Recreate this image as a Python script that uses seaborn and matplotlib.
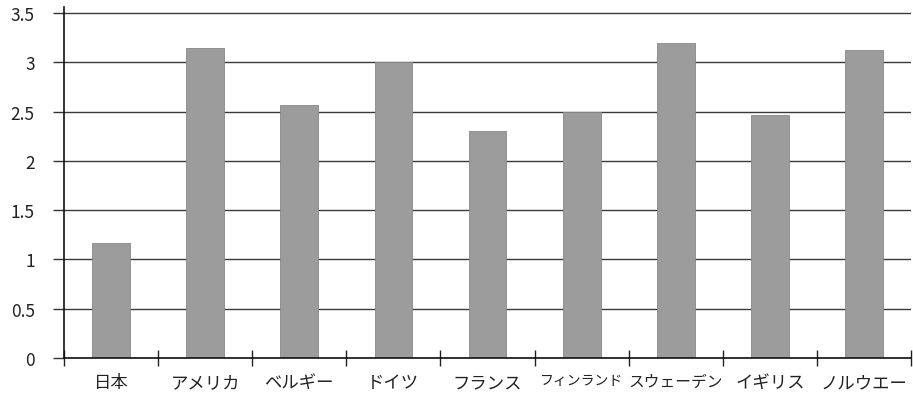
import matplotlib
matplotlib.use("Agg")
import matplotlib.pyplot as plt
import seaborn as sns
import numpy as np
import pandas as pd

countries = ["日本", "アメリカ", "ベルギー", "ドイツ", "フランス",
             "フィンランド", "スウェーデン", "イギリス", "ノルウエー"]
values = [1.17, 3.14, 2.57, 3.00, 2.30, 2.50, 3.20, 2.46, 3.12]
y_ticks = [0, 0.5, 1, 1.5, 2, 2.5, 3, 3.5]
y_tick_labels = ["0", "0.5", "1", "1.5", "2", "2.5", "3", "3.5"]

sns.set_theme(style="white")
plt.rcParams["font.family"] = ["Noto Sans CJK JP", "DejaVu Sans"]

df = pd.DataFrame({"country": countries, "value": values})

fig = plt.figure(figsize=(9.13, 4.02), dpi=100)
ax = fig.add_axes([0.070, 0.107, 0.928, 0.873])

sns.barplot(data=df, x="country", y="value", ax=ax, width=0.4,
            color="#9c9c9c", saturation=1, edgecolor="#888888", linewidth=0.6,
            zorder=3)

ax.set_xlim(-0.5, len(countries) - 0.5)
ax.set_ylim(0, 3.56)
ax.set_yticks(y_ticks)
ax.set_yticklabels(y_tick_labels, fontsize=12.5, color="#222222")
ax.set_xlabel("")
ax.set_ylabel("")

# horizontal gridlines
ax.yaxis.grid(True, color="#3a3a3a", linewidth=1.0, zorder=1)
ax.xaxis.grid(False)
ax.set_axisbelow(True)

# spines
for s in ["top", "right"]:
    ax.spines[s].set_visible(False)
ax.spines["left"].set_color("#111111")
ax.spines["left"].set_linewidth(1.2)
ax.spines["bottom"].set_color("#111111")
ax.spines["bottom"].set_linewidth(1.2)
ax.spines["bottom"].set_zorder(4)

# y ticks pointing outward, x labels without ticks, category boundaries as minor ticks
ax.tick_params(axis="y", which="major", direction="out", length=8, width=1,
               color="#333333", pad=13, left=True)
ax.tick_params(axis="x", which="major", length=0, pad=11, labelsize=12.5,
               labelcolor="#222222")
# the longer names get a slightly smaller size so neighbouring labels don't collide
long_name_sizes = {"フィンランド": 10, "スウェーデン": 11.3}
for lbl in ax.get_xticklabels():
    if lbl.get_text() in long_name_sizes:
        lbl.set_fontsize(long_name_sizes[lbl.get_text()])
ax.set_xticks(np.arange(-0.5, len(countries) + 0.5, 1.0), minor=True)
ax.tick_params(axis="x", which="minor", direction="inout", length=12, width=1,
               color="#222222", bottom=True)

fig.savefig("out.png", dpi=100)
